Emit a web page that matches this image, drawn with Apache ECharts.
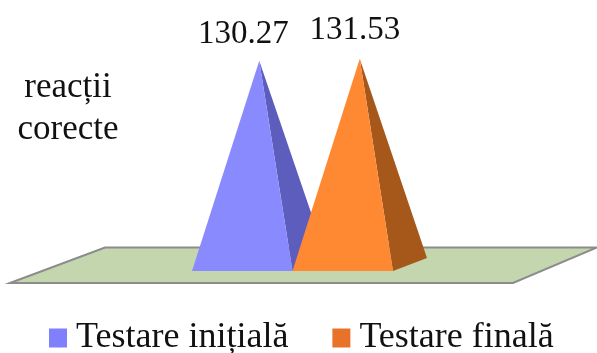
<!DOCTYPE html>
<html>
<head>
<meta charset="utf-8">
<style>html,body{margin:0;padding:0;background:#fff}#chart{width:597px;height:353px}</style>
<script src="https://cdn.jsdelivr.net/npm/echarts@6/dist/echarts.min.js"></script>
</head>
<body>
<div id="chart"></div>
<script>
const categories = ['reacții\ncorecte'];
const seriesNames = ['Testare inițială', 'Testare finală'];
const initialValues = [130.27];
const finalValues = [131.53];
const valueLabels = ['130.27', '131.53'];
const frontColors = ['#8A8AFF', '#FF8833'];
const sideColors = ['#5D5DBD', '#A6581B'];
const legendColors = ['#8080FF', '#E9722B'];
const FONT = '"Liberation Serif", serif';

// Oblique projection of the pyramid's depth: the back corner sits right of and above the front one.
const DEPTH_X = 34;
const DEPTH_Y = 13;
// Value labels are lifted above each apex; the offsets differ slightly per pyramid.
const LABEL_OFFSET = [[-16, -27], [-5, -28]];

function pyramid(slot) {
  return function (params, api) {
    const base = api.coord([api.value(0), 0]);
    const top = api.coord([api.value(0), api.value(1)]);
    const width = api.size([1, 0])[0] / 2;
    const left = base[0] - width + slot * width;
    const right = left + width;
    const apexX = (left + right) / 2 + DEPTH_X / 2;
    const apex = [apexX, top[1]];
    return {
      type: 'group',
      children: [
        { type: 'polygon',
          shape: { points: [[right, base[1]], [right + DEPTH_X, base[1] - DEPTH_Y], apex] },
          style: { fill: sideColors[slot] } },
        { type: 'polygon',
          shape: { points: [[left, base[1]], [right, base[1]], apex] },
          style: { fill: frontColors[slot] } },
        { type: 'text',
          style: { text: valueLabels[slot], x: apexX + LABEL_OFFSET[slot][0], y: top[1] + LABEL_OFFSET[slot][1],
            align: 'center', verticalAlign: 'middle', fill: '#111', font: '33px ' + FONT } }
      ]
    };
  };
}

const chart = echarts.init(document.getElementById('chart'), null, { renderer: 'canvas' });
chart.setOption({
  animation: false,
  backgroundColor: '#fff',
  grid: { left: 192, width: 201, top: 29, bottom: 82 },
  xAxis: { type: 'category', data: categories, show: false },
  yAxis: { type: 'value', min: 0, max: 150, show: false },
  title: {
    text: categories[0], left: 63, top: 62, textAlign: 'center',
    textStyle: { fontFamily: FONT, fontSize: 35, fontWeight: 'normal', color: '#111', lineHeight: 42 }
  },
  legend: {
    left: 44, top: 315, itemWidth: 18, itemHeight: 19, itemGap: 44,
    textStyle: { fontFamily: FONT, fontSize: 36, color: '#111', padding: [0, 0, 0, 4] },
    data: seriesNames.map((name, i) => ({ name, icon: 'rect', itemStyle: { color: legendColors[i] } }))
  },
  graphic: [{
    type: 'polygon', z: 0, silent: true,
    shape: { points: [[10, 283], [105, 247.5], [597, 247.5], [513, 283]] },
    style: { fill: '#C3D6AE', stroke: '#8C8C8C', lineWidth: 2 }
  }],
  series: [
    { type: 'custom', name: seriesNames[0], z: 3, clip: false,
      itemStyle: { color: legendColors[0] },
      renderItem: pyramid(0), data: initialValues.map((v, i) => [i, v]) },
    { type: 'custom', name: seriesNames[1], z: 4, clip: false,
      itemStyle: { color: legendColors[1] },
      renderItem: pyramid(1), data: finalValues.map((v, i) => [i, v]) }
  ]
});
</script>
</body>
</html>
